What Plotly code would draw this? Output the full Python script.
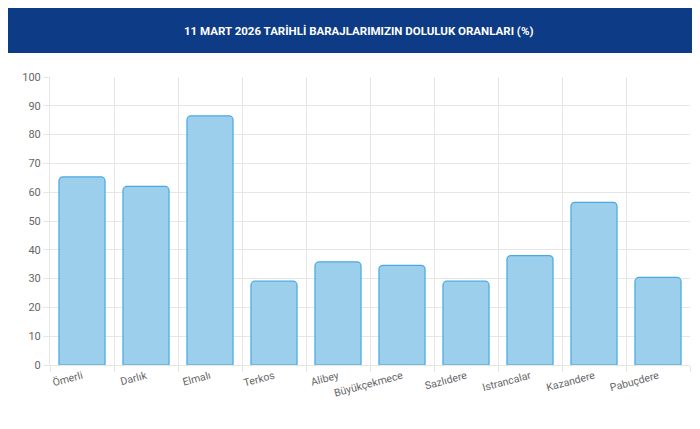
import plotly.graph_objects as go

categories = ["Ömerli", "Darlık", "Elmalı", "Terkos", "Alibey", "Büyükçekmece", "Sazlıdere", "Istrancalar", "Kazandere", "Pabuçdere"]
values = [65.3, 62.0, 86.5, 29.1, 35.8, 34.6, 29.1, 38.0, 56.5, 30.4]
title = "11 MART 2026 TARİHLİ BARAJLARIMIZIN DOLULUK ORANLARI (%)"

L, R, T, B = 42, 18, 69, 72
PW, PH = 700 - L - R, 429 - T - B

fig = go.Figure(go.Bar(
    x=categories, y=values, width=0.72,
    marker=dict(color="#9ccfec", line=dict(color="#4aa8e0", width=1.2), cornerradius=4),
))
fig.update_layout(
    width=700, height=429, plot_bgcolor="white", paper_bgcolor="white",
    margin=dict(l=L, r=R, t=T, b=B, autoexpand=False), showlegend=False,
    font=dict(family="Roboto, Arial", color="#666"),
    shapes=[dict(type="rect", xref="paper", yref="paper", x0=-L / PW - 0.01, x1=1 + R / PW + 0.01,
                 y0=1 + (T - 45) / PH, y1=1 + T / PH + 0.01,
                 fillcolor="#0d3b86", line_width=0, layer="below")],
    annotations=[dict(text="<b>" + title + "</b>", xref="paper", yref="paper", x=0.5 + (R - L) / 2 / PW,
                      xanchor="center", y=1 + (T - 22.5) / PH, yanchor="middle", showarrow=False,
                      font=dict(color="white", size=11.5, family="Roboto, Arial"))],
)
fig.update_yaxes(range=[0, 100], dtick=10, gridcolor="#e6e6e6", showline=True, linecolor="#e6e6e6",
                 tickfont=dict(size=11, color="#666"), ticks="outside", ticklen=6, tickcolor="#e6e6e6", zeroline=False)
fig.update_xaxes(tickson="boundaries", showgrid=True, gridcolor="#e6e6e6", showline=True, linecolor="#e6e6e6",
                 tickangle=-15, tickfont=dict(size=10.5, color="#666"), ticks="outside", ticklen=6,
                 tickcolor="#e6e6e6")
fig.write_html("out.html")
